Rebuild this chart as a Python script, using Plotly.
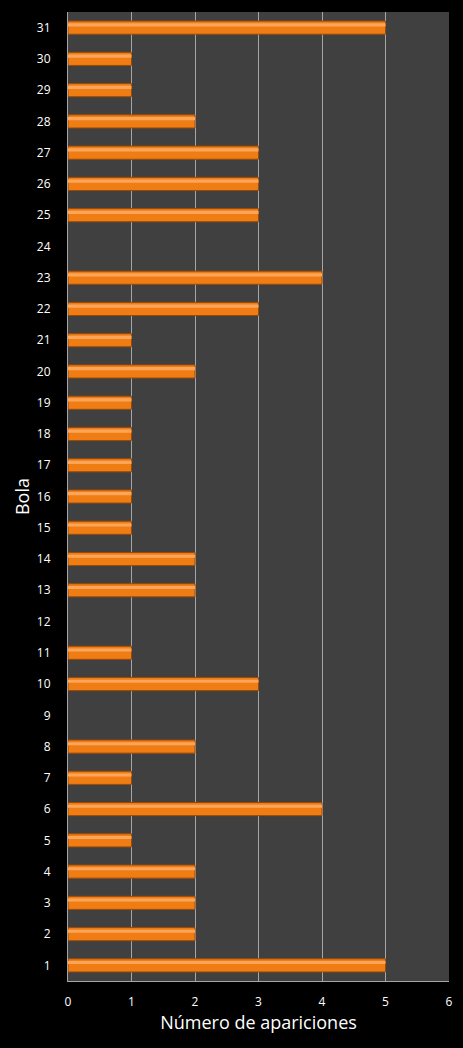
import plotly.graph_objects as go

bolas = [str(i) for i in range(1, 32)]
apariciones = [5, 2, 2, 2, 1, 4, 1, 2, 0, 3, 1, 0, 2, 2, 1, 1, 1, 1, 1, 2,
               1, 3, 4, 0, 3, 3, 3, 2, 1, 1, 5]
x_ticks = [0, 1, 2, 3, 4, 5, 6]

# sin borde en las bolas que no han salido
bordes = [1 if v > 0 else 0 for v in apariciones]

fig = go.Figure()
# cuerpo de la barra
fig.add_trace(go.Bar(
    x=apariciones, y=bolas, orientation="h",
    width=0.42, offset=-0.21,
    marker=dict(color="#F07D14", line=dict(color="#9A4A08", width=bordes)),
    hoverinfo="x+y",
))
# brillo superior
fig.add_trace(go.Bar(
    x=apariciones, y=bolas, orientation="h",
    width=0.1, offset=0.04,
    marker=dict(color="#FBA55A", line=dict(width=0)),
    hoverinfo="skip",
))

fig.update_layout(
    width=463, height=1048,
    paper_bgcolor="#000000", plot_bgcolor="#404040",
    margin=dict(l=68, r=10, t=12, b=67),
    barmode="overlay", showlegend=False,
    font=dict(family="Open Sans, Noto Sans, sans-serif", color="#FFFFFF", size=12),
)
fig.update_xaxes(
    range=[0, 6], tickvals=x_ticks, showgrid=True, gridcolor="#A6A6A6", gridwidth=1,
    zeroline=False, showline=True, linecolor="#A6A6A6", linewidth=1,
    ticks="", ticklabelstandoff=10, tickfont=dict(size=12),
    title=dict(text="Número de apariciones", font=dict(size=18), standoff=6),
)
fig.update_yaxes(
    type="category", categoryorder="array", categoryarray=bolas,
    range=[-0.5, 30.5], showgrid=False, zeroline=False,
    showline=True, linecolor="#A6A6A6", linewidth=1,
    ticks="", ticklabelstandoff=14, tickfont=dict(size=12),
    title=dict(text="Bola", font=dict(size=18), standoff=2),
)

fig.write_html("out.html", config={"displayModeBar": False},
               post_script="document.body.style.margin='0';document.body.style.background='#000';")
